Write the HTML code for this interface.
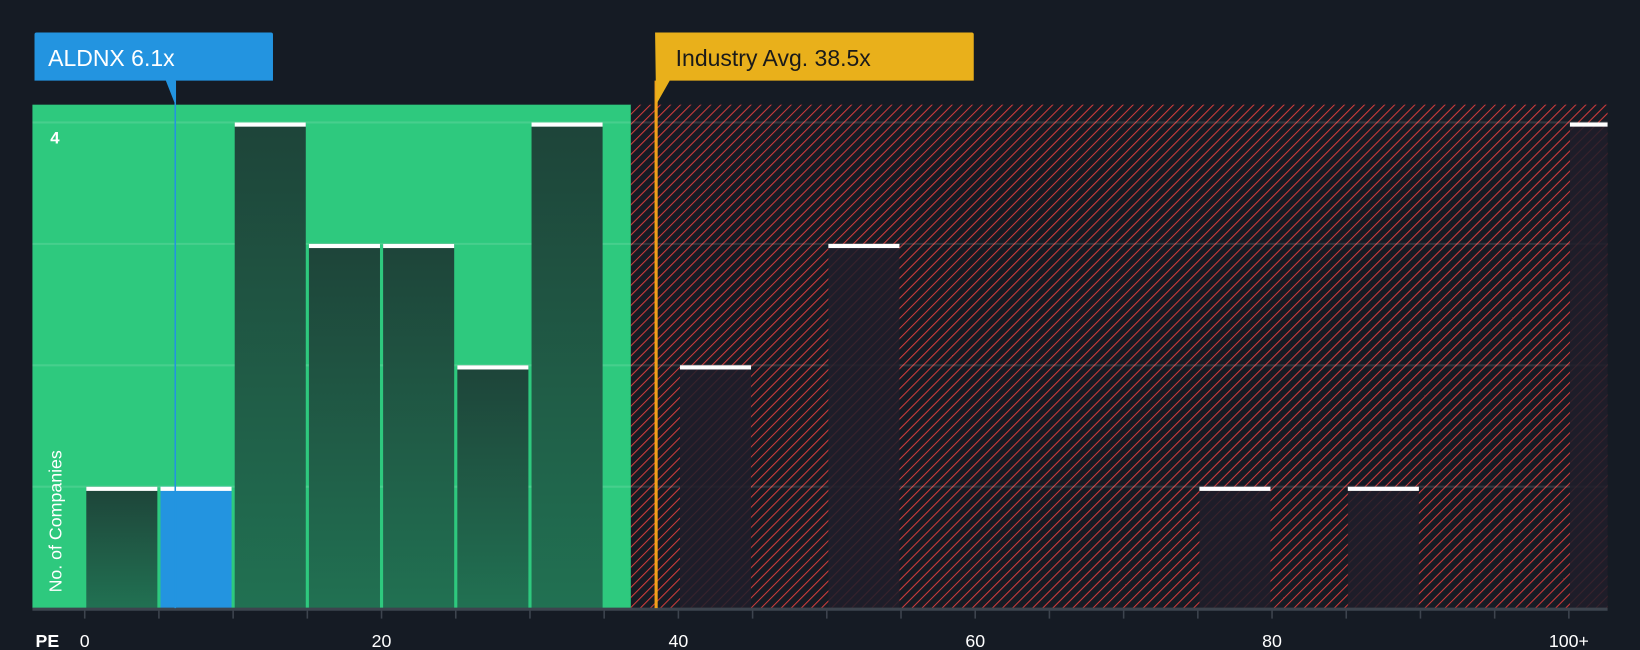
<!DOCTYPE html>
<html><head><meta charset="utf-8"><style>
html,body{margin:0;padding:0;background:#151b24;}
svg{display:block;font-family:"Liberation Sans",sans-serif;}
</style></head><body>
<svg id="chart" width="1640" height="650" viewBox="0 0 1568 621" preserveAspectRatio="none" xmlns="http://www.w3.org/2000/svg">
<defs>
<pattern id="hatch" patternUnits="userSpaceOnUse" width="6.8" height="6.8" patternTransform="rotate(45)">
<rect width="6.8" height="6.8" fill="#161b24"/>
<line x1="0" y1="0" x2="0" y2="6.8" stroke="#d13c3c" stroke-width="2"/>
</pattern>
<linearGradient id="gbar" x1="0" y1="0" x2="0" y2="1"><stop offset="0" stop-color="#1e4439"/><stop offset="1" stop-color="#217152"/></linearGradient>
</defs>
<rect width="1568" height="621" fill="#151b24"/>
<g id="plot"></g>
</svg>
<script>
const binStarts = [0,5,10,15,20,25,30,35,40,45,50,55,60,65,70,75,80,85,90,95];
const counts    = [1,1,4,3,3,2,4,0,2,0,3,0,0,0,0,1,0,1,0,0];
const overflowCount = 4;
const xTicks = [0,20,40,60,80];
const companyPE = 6.1;
const industryPE = 38.5;
const fairUpper = 36.8;

const NS="http://www.w3.org/2000/svg";
const g=document.getElementById('plot');
const x0=81, pxPerUnit=14.19, yBase=581, pxPerCount=116;
const X=v=>x0+v*pxPerUnit;
const Y=c=>yBase-c*pxPerCount;
function mk(tag,attrs,parent){const e=document.createElementNS(NS,tag);for(const k in attrs)e.setAttribute(k,attrs[k]);(parent||g).appendChild(e);return e;}

let e=mk('rect',{x:31,y:100,width:X(fairUpper)-31,height:481,fill:'#2ec97e'});


e=mk('rect',{x:X(fairUpper),y:100,width:1537-X(fairUpper),height:481,fill:'url(#hatch)'});



for(let c=1;c<=4;c++){
  e=mk('line',{x1:31,x2:1537,y1:Y(c),y2:Y(c),stroke:'rgba(255,255,255,0.12)','stroke-width':2});
  
  
}

function bar(xa,xb,c,isGreen,isCompany){
  if(c<=0)return;
  const b=mk('rect',{x:xa,y:Y(c),width:xb-xa,height:yBase-Y(c),fill:isCompany?'#2394e0':(isGreen?'url(#gbar)':'rgba(32,30,42,0.86)')});
  
  
  const cap=mk('rect',{x:xa,y:Y(c),width:xb-xa,height:4,fill:'#ffffff'});
  
  
}
binStarts.forEach((s,i)=>{
  const isComp = companyPE>=s && companyPE<s+5;
  bar(X(s)+1.5,X(s+5)-1.5,counts[i],s+5<=fairUpper,isComp);
});
bar(X(100)+1,1537,overflowCount,false,false);

e=mk('line',{x1:31,x2:1537,y1:yBase+1,y2:yBase+1,stroke:'#3d444e','stroke-width':3});


for(let v=0;v<=100;v+=5){
  e=mk('line',{x1:X(v),x2:X(v),y1:yBase+2,y2:yBase+10,stroke:'#3d444e','stroke-width':1.5});
  
  
}
xTicks.forEach(v=>{
  const t=mk('text',{x:X(v),y:618,fill:'#ffffff','font-size':17,'text-anchor':'middle'});
  t.textContent=v;
  
  
});
e=mk('text',{x:X(100),y:618,fill:'#ffffff','font-size':17,'text-anchor':'middle'});e.textContent='100+';


e=mk('text',{x:34,y:618,fill:'#ffffff','font-size':17,'font-weight':'bold'});e.textContent='PE';


e=mk('text',{x:48,y:137,fill:'#ffffff','font-size':16,'font-weight':'bold'});e.textContent='4';


e=mk('text',{x:0,y:0,fill:'#ffffff','font-size':17,transform:'translate(59,566) rotate(-90)'});e.textContent='No. of Companies';



e=mk('line',{x1:X(companyPE),x2:X(companyPE),y1:77,y2:yBase,stroke:'#2394e0','stroke-width':1.5});


e=mk('path',{d:`M33 33 Q33 31 35 31 L259 31 Q261 31 261 33 L261 77 L${X(companyPE)} 77 L${X(companyPE)} 100 L${X(companyPE)-9} 77 L33 77 Z`,fill:'#2394e0'});


e=mk('text',{x:46,y:63,fill:'#ffffff','font-size':22});e.textContent='ALDNX 6.1x';



e=mk('line',{x1:X(industryPE),x2:X(industryPE),y1:77,y2:yBase,stroke:'#f0a01a','stroke-width':3});


const ix=X(industryPE);
e=mk('path',{d:`M${ix-1} 31 L929 31 Q931 31 931 33 L931 77 L${ix+13} 77 L${ix} 100 Z`,fill:'#e9b01b'});


e=mk('text',{x:646,y:63,fill:'#1a1a1a','font-size':22});e.textContent='Industry Avg. 38.5x';


</script>
</body></html>
